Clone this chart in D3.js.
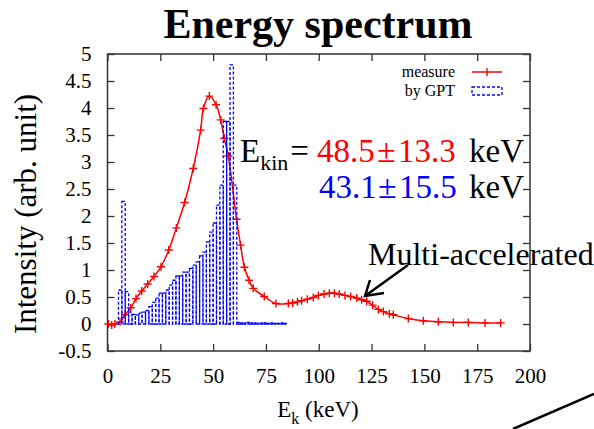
<!DOCTYPE html>
<html>
<head>
<meta charset="utf-8">
<script src="https://cdn.jsdelivr.net/npm/d3@7"></script>
<style>
  body { margin: 0; background: #fff; }
  svg { display: block; font-family: "Liberation Serif", "Times New Roman", serif; }
</style>
</head>
<body>
<div id="chart"></div>
<script>
"use strict";

// measured spectrum (keV, arb. unit)
var measureE = [0.4, 2, 3.5, 5.9, 8.3, 11, 13.5, 16.2, 19, 22, 25.3, 29, 32.6, 36.5, 40.6,
    44.1, 45.4, 48.2, 51.4, 53.6, 55.3, 57.2, 61.1, 63, 64.8, 67, 69, 74.2, 79.7, 85.6,
    87.7, 89.9, 91.9, 94.6, 97.4, 99.8, 102.5, 105, 107.4, 109.7, 112.4, 115.1, 118, 120.3, 122.7,
    125.5, 128.2, 130.6, 133.4, 135.3, 142.4, 149.5, 156.6, 163.7, 170.8, 178.7, 186.1];
var measureI = [0, -0.02, 0, 0.04, 0.17, 0.3, 0.47, 0.61, 0.74, 0.88, 1.06, 1.37, 1.78, 2.25, 2.88,
    3.59, 3.99, 4.22, 4.06, 3.78, 3.44, 3.11, 1.94, 1.46, 1.05, 0.81, 0.66, 0.51, 0.38, 0.38,
    0.39, 0.41, 0.43, 0.46, 0.49, 0.53, 0.555, 0.57, 0.57, 0.555, 0.53, 0.51, 0.48, 0.45, 0.42,
    0.35, 0.27, 0.23, 0.19, 0.17, 0.10, 0.06, 0.04, 0.03, 0.03, 0.02, 0.02];

// GPT simulation histogram, 1.6 keV bins (bin centres)
var gptE = [6.0, 7.6, 9.2, 10.8, 12.4, 14.0, 15.6, 17.2, 18.8, 20.4, 22.0, 23.6, 25.2, 26.8, 28.4,
    30.0, 31.6, 33.2, 34.8, 36.4, 38.0, 39.6, 41.2, 42.8, 44.4, 46.0, 47.6, 49.2, 50.8, 52.4,
    54.0, 55.6, 57.2, 58.8, 60.4, 62.0, 63.6, 65.2, 66.8, 68.4, 70.0, 71.6, 73.2, 74.8, 76.4,
    78.0, 79.6, 81.2, 82.8, 84.4];
var gptI = [0.63, 2.27, 0.6, 0.22, 0.18, 0.17, 0.2, 0.22, 0.25, 0.32, 0.4, 0.48, 0.57, 0.57, 0.63,
    0.72, 0.81, 0.89, 0.89, 0.96, 0.96, 1.03, 1.09, 1.15, 1.26, 1.33, 1.52, 1.7, 1.87, 2.2,
    2.57, 3.75, 3.75, 4.8, 2.57, 0.03, 0.02, 0.02, 0.03, 0.02, 0.02, 0.01, 0.02, 0.02, 0.01,
    0.02, 0.01, 0.01, 0.02, 0.01];
var binWidth = 1.6;

var xTicks = [0, 25, 50, 75, 100, 125, 150, 175, 200];
var yTicks = [-0.5, 0, 0.5, 1, 1.5, 2, 2.5, 3, 3.5, 4, 4.5, 5];

var width = 594, height = 429;
var plotL = 107.5, plotR = 530, plotT = 54, plotB = 351;

var x = d3.scaleLinear().domain([0, 200]).range([plotL, plotR]);
var y = d3.scaleLinear().domain([-0.5, 5]).range([plotB, plotT]);

var svg = d3.select("#chart").append("svg")
    .attr("width", width)
    .attr("height", height);

// title
svg.append("text")
    .attr("x", 318)
    .attr("y", 38)
    .attr("text-anchor", "middle")
    .style("font-size", "42px")
    .style("font-weight", "bold")
    .text("Energy spectrum");

// axes with inside ticks, mirrored on top / right
var fmt = function (d) { return String(d); };
var gx = svg.append("g")
    .attr("transform", "translate(0," + plotB + ")")
    .call(d3.axisBottom(x).tickValues(xTicks).tickFormat(fmt).tickSize(-7).tickPadding(17));
var gy = svg.append("g")
    .attr("transform", "translate(" + plotL + ",0)")
    .call(d3.axisLeft(y).tickValues(yTicks).tickFormat(fmt).tickSize(-7).tickPadding(16));
var gx2 = svg.append("g")
    .attr("transform", "translate(0," + plotT + ")")
    .call(d3.axisTop(x).tickValues(xTicks).tickFormat("").tickSize(-7));
var gy2 = svg.append("g")
    .attr("transform", "translate(" + plotR + ",0)")
    .call(d3.axisRight(y).tickValues(yTicks).tickFormat("").tickSize(-7));

[gx, gy, gx2, gy2].forEach(function (g) {
    g.attr("font-family", null);
    g.select(".domain").remove();
    g.selectAll("line").attr("stroke", "#333").attr("stroke-width", 1.3);
    g.selectAll("text")
        .attr("fill", "#000")
        .style("font-size", "21px");
});

svg.append("rect")
    .attr("x", plotL)
    .attr("y", plotT)
    .attr("width", plotR - plotL)
    .attr("height", plotB - plotT)
    .attr("fill", "none")
    .attr("stroke", "#333")
    .attr("stroke-width", 1.5);

// axis titles
var xl = svg.append("text")
    .attr("x", 318)
    .attr("y", 417)
    .attr("text-anchor", "middle")
    .style("font-size", "23px");
xl.append("tspan").text("E");
xl.append("tspan").attr("dy", 7).style("font-size", "16px").text("k");
xl.append("tspan").attr("dy", -7).text(" (keV)");

svg.append("text")
    .attr("transform", "translate(36,214) rotate(-90)")
    .attr("text-anchor", "middle")
    .style("font-size", "31px")
    .text("Intensity (arb. unit)");

// measured line
var pts = measureE.map(function (e, i) { return [e, measureI[i]]; });
var line = d3.line()
    .x(function (d) { return x(d[0]); })
    .y(function (d) { return y(d[1]); })
    .curve(d3.curveCatmullRom);

svg.append("path")
    .datum(pts)
    .attr("d", line)
    .attr("fill", "none")
    .attr("stroke", "#ff0000")
    .attr("stroke-width", 1.5);

var ms = 4;
svg.append("g").selectAll("path")
    .data(pts)
    .enter().append("path")
    .attr("d", function (d) {
        var px = x(d[0]), py = y(d[1]);
        return "M" + (px - ms) + "," + py + "H" + (px + ms) + "M" + px + "," + (py - ms) + "V" + (py + ms);
    })
    .attr("stroke", "#ff0000")
    .attr("stroke-width", 1.4);

// GPT boxes
svg.append("g").selectAll("rect")
    .data(gptE)
    .enter().append("rect")
    .attr("x", function (d) { return x(d - binWidth / 2); })
    .attr("y", function (d, i) { return y(gptI[i]); })
    .attr("width", function (d) { return x(d + binWidth / 2) - x(d - binWidth / 2); })
    .attr("height", function (d, i) { return y(0) - y(gptI[i]); })
    .attr("fill", "none")
    .attr("stroke", "#0000ff")
    .attr("stroke-width", 1.3)
    .attr("stroke-dasharray", "3,2");

// legend
var leg = svg.append("g").style("font-size", "16px");
leg.append("text").attr("x", 455).attr("y", 77).attr("text-anchor", "end").text("measure");
leg.append("text").attr("x", 455).attr("y", 96).attr("text-anchor", "end").text("by GPT");
leg.append("line")
    .attr("x1", 472).attr("x2", 502).attr("y1", 72).attr("y2", 72)
    .attr("stroke", "#ff0000").attr("stroke-width", 1.5);
leg.append("path")
    .attr("d", "M487,68V76")
    .attr("stroke", "#ff0000").attr("stroke-width", 1.4);
leg.append("rect")
    .attr("x", 472).attr("y", 87).attr("width", 30).attr("height", 8)
    .attr("fill", "none").attr("stroke", "#0000ff").attr("stroke-width", 1.3)
    .attr("stroke-dasharray", "3,2");

// energy annotation
var a1 = svg.append("text").attr("x", 240).attr("y", 162).style("font-size", "33px");
a1.append("tspan").text("E");
a1.append("tspan").attr("dy", 8).style("font-size", "22px").text("kin");
a1.append("tspan").attr("dy", -8).attr("dx", 2).text("=");
a1.append("tspan").attr("x", 317).attr("fill", "#ff0000").text("48.5");
a1.append("tspan").attr("x", 377).attr("fill", "#ff0000").style("font-size", "34px").text("±");
a1.append("tspan").attr("x", 398).attr("fill", "#ff0000").text("13.3");
a1.append("tspan").attr("x", 469).text("keV");

var a2 = svg.append("text").attr("y", 198).style("font-size", "33px");
a2.append("tspan").attr("x", 319).attr("fill", "#0000ff").text("43.1");
a2.append("tspan").attr("x", 378).attr("fill", "#0000ff").style("font-size", "34px").text("±");
a2.append("tspan").attr("x", 399).attr("fill", "#0000ff").text("15.5");
a2.append("tspan").attr("x", 469).text("keV");

// multi-accelerated note with arrow
svg.append("text")
    .attr("x", 368)
    .attr("y", 265)
    .style("font-size", "32px")
    .text("Multi-accelerated");

svg.append("path")
    .attr("d", "M408,265L365,296M370,280L365,296L384,293")
    .attr("fill", "none")
    .attr("stroke", "#000")
    .attr("stroke-width", 2.5);

// stray line from neighbouring panel
svg.append("line")
    .attr("x1", 513).attr("y1", 429).attr("x2", 594).attr("y2", 394)
    .attr("stroke", "#000").attr("stroke-width", 2.5);
</script>
</body>
</html>
